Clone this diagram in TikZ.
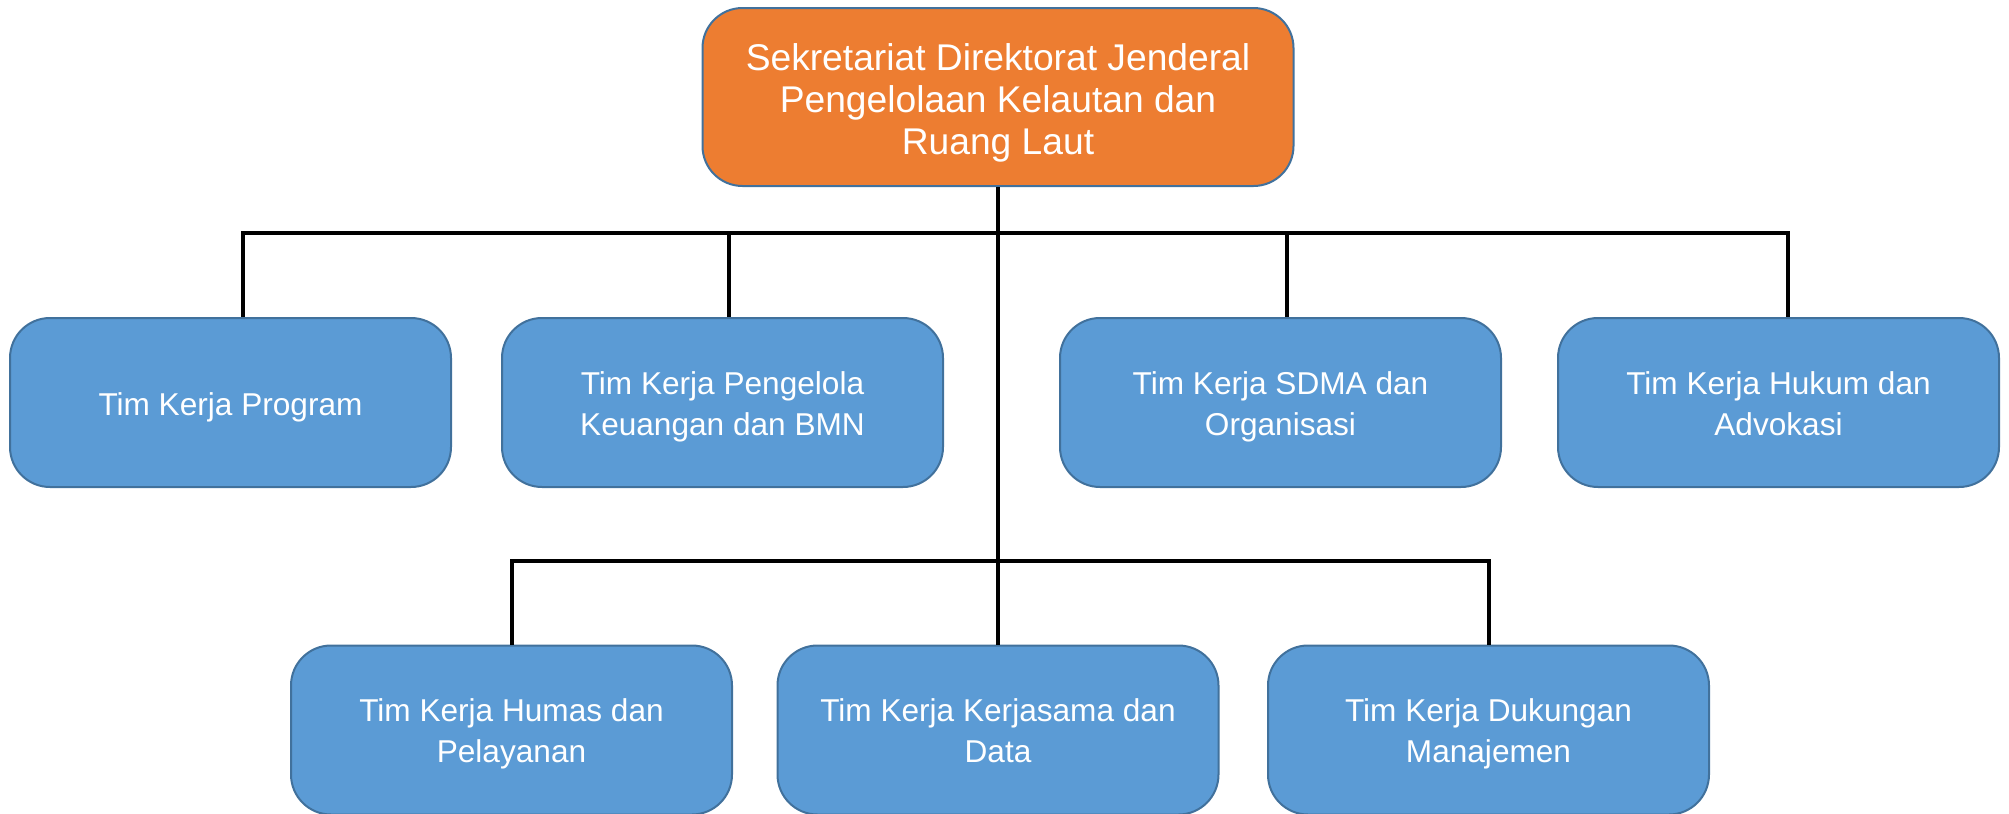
\documentclass[tikz,border=0pt]{standalone}
\usepackage{fontspec}
\setmainfont{Liberation Sans}
\usetikzlibrary{positioning}
\definecolor{sekorange}{HTML}{ED7D31}
\definecolor{timblue}{HTML}{5B9BD5}
\definecolor{edgeblue}{HTML}{41719C}

\begin{document}
\begin{tikzpicture}[
     x=0.5pt, y=-0.5pt,
     % define styles
     head/.style={
         draw=edgeblue, fill=sekorange, line width=1pt,
         rounded corners=20pt, text=white, align=center,
         minimum width=295.5pt, minimum height=89pt,
         font=\fontsize{18.6}{21}\selectfont,
         text height=57pt, text depth=0pt
     },
     tim/.style={
         draw=edgeblue, fill=timblue, line width=1pt,
         rounded corners=20pt, text=white, align=center,
         minimum width=220.5pt, minimum height=84.5pt,
         font=\fontsize{15.8}{20.5}\selectfont,
         text height=32.5pt, text depth=0pt
     },
     oneline/.style={
         text height=12.5pt
     },
     link/.style={
         draw=black, line width=2pt
     }
]
\useasboundingbox (0,0) rectangle (2009,814);

% head of the secretariat
\node[head] (sek) at (998,97) {Sekretariat Direktorat Jenderal\\Pengelolaan Kelautan dan\\Ruang Laut};

% first row of teams
\node[tim,oneline] (prog) at (230.5,402.5) {Tim Kerja Program};
\node[tim] (keu)   at (722.5,402.5)  {Tim Kerja Pengelola\\Keuangan dan BMN};
\node[tim] (sdma)  at (1280.5,402.5) {Tim Kerja SDMA dan\\Organisasi};
\node[tim] (hukum) at (1778.5,402.5) {Tim Kerja Hukum dan\\Advokasi};

% second row of teams
\node[tim] (humas) at (511.5,730) {Tim Kerja Humas dan\\Pelayanan};
\node[tim] (data)  at (998,730)   {Tim Kerja Kerjasama dan\\Data};
\node[tim] (duk)   at (1488.5,730) {Tim Kerja Dukungan\\Manajemen};

% trunk and bus lines
\draw[link] (sek.south) -- (data.north);
\draw[link] ([xshift=6pt]prog.north) -- ++(0,-84) -| ([xshift=4.5pt]hukum.north);
\draw[link] ([xshift=3pt]keu.north) -- ++(0,-84);
\draw[link] ([xshift=3pt]sdma.north) -- ++(0,-84);
\draw[link] (humas.north) -- ++(0,-84) -| (duk.north);
\end{tikzpicture}
\end{document}
